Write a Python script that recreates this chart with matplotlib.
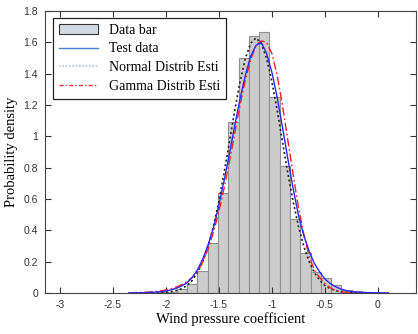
import matplotlib
matplotlib.use("Agg")
import matplotlib.pyplot as plt
from matplotlib.patches import Patch
from matplotlib.lines import Line2D

# Histogram (left edges of bins, bin width, densities)
bin_left = [-2.090, -1.993, -1.896, -1.799, -1.702, -1.605, -1.508, -1.411,
            -1.314, -1.217, -1.120, -1.023, -0.926, -0.829, -0.732, -0.635,
            -0.538, -0.441, -0.344, -0.247, -0.150]
bin_width = 0.097
bar_density = [0.003, 0.008, 0.025, 0.06, 0.14, 0.32, 0.64, 1.09,
               1.50, 1.64, 1.665, 1.25, 0.81, 0.47, 0.255, 0.135,
               0.096, 0.053, 0.02, 0.01, 0.005]

# Curves sampled on a common grid
curve_x = [-2.35, -2.30, -2.25, -2.20, -2.15, -2.10, -2.05, -2.00, -1.95, -1.90,
           -1.85, -1.80, -1.75, -1.70, -1.65, -1.60, -1.55, -1.50, -1.45, -1.40,
           -1.35, -1.30, -1.25, -1.20, -1.15, -1.10, -1.05, -1.00, -0.95, -0.90,
           -0.85, -0.80, -0.75, -0.70, -0.65, -0.60, -0.55, -0.50, -0.45, -0.40,
           -0.35, -0.30, -0.25, -0.20, -0.15, -0.10, -0.05, 0.00, 0.05, 0.10]

test_data = [0, 0, 0.001, 0.002, 0.003, 0.005, 0.008, 0.012, 0.02, 0.03,
             0.045, 0.065, 0.10, 0.15, 0.22, 0.31, 0.42, 0.56, 0.72, 0.89,
             1.07, 1.24, 1.39, 1.51, 1.58, 1.60, 1.53, 1.41, 1.25, 1.06,
             0.86, 0.67, 0.50, 0.37, 0.27, 0.19, 0.135, 0.09, 0.06, 0.04,
             0.025, 0.015, 0.009, 0.005, 0.003, 0.002, 0.001, 0.0005, 0, 0]

normal_est = [0, 0, 0.0001, 0.0002, 0.0004, 0.0009, 0.0019, 0.004, 0.0079, 0.015,
              0.027, 0.048, 0.081, 0.131, 0.203, 0.301, 0.429, 0.586, 0.769, 0.967,
              1.167, 1.350, 1.498, 1.594, 1.628, 1.594, 1.498, 1.350, 1.167, 0.967,
              0.769, 0.586, 0.429, 0.301, 0.203, 0.131, 0.081, 0.048, 0.027, 0.015,
              0.0079, 0.004, 0.0019, 0.0009, 0.0004, 0.0002, 0.0001, 0, 0, 0]

gamma_est = [0.001, 0.002, 0.003, 0.004, 0.006, 0.009, 0.013, 0.019, 0.027, 0.038,
             0.053, 0.073, 0.10, 0.14, 0.20, 0.285, 0.39, 0.52, 0.67, 0.84,
             1.02, 1.20, 1.36, 1.49, 1.58, 1.61, 1.60, 1.53, 1.39, 1.20,
             0.98, 0.76, 0.55, 0.38, 0.24, 0.145, 0.10, 0.06, 0.033, 0.016,
             0.007, 0.003, 0.001, 0, 0, 0, 0, 0, 0, 0]

x_ticks = [-3, -2.5, -2, -1.5, -1, -0.5, 0]
x_tick_labels = ["-3", "-2.5", "-2", "-1.5", "-1", "-0.5", "0"]
y_ticks = [0, 0.2, 0.4, 0.6, 0.8, 1.0, 1.2, 1.4, 1.6, 1.8]
y_tick_labels = ["0", "0.2", "0.4", "0.6", "0.8", "1", "1.2", "1.4", "1.6", "1.8"]
legend_labels = ["Data bar", "Test data", "Normal Distrib Esti", "Gamma Distrib Esti"]

fig = plt.figure(figsize=(4.18, 3.34), dpi=100)
ax = fig.add_axes([0.108, 0.123, 0.887, 0.844])

ax.bar(bin_left, bar_density, width=bin_width, align="edge",
       facecolor="#cccccc", edgecolor="#8f8f8f", linewidth=0.8, zorder=1)
ax.plot(curve_x, normal_est, color="#222222", linestyle=(0, (1.2, 1.6)), lw=1.2, zorder=3)
ax.plot(curve_x, gamma_est, color="#ff2020", linestyle=(0, (6, 2, 1.2, 2)), lw=1.0, zorder=4)
ax.plot(curve_x, test_data, color="#2a2aff", linestyle="-", lw=1.0, zorder=5)

ax.set_xlim(-3.14, 0.36)
ax.set_ylim(0, 1.8)
ax.set_xticks(x_ticks)
ax.set_xticklabels(x_tick_labels)
ax.set_yticks(y_ticks)
ax.set_yticklabels(y_tick_labels)
ax.tick_params(direction="in", top=True, right=True, length=4, width=0.8,
               colors="#333333", labelsize=7.5, pad=5)
for lab in ax.get_xticklabels() + ax.get_yticklabels():
    lab.set_family("Liberation Sans")
for s in ax.spines.values():
    s.set_color("#444444")
    s.set_linewidth(0.8)

ax.set_xlabel("Wind pressure coefficient", family="Liberation Serif", fontsize=10.5, labelpad=2)
ax.set_ylabel("Probability density", family="Liberation Serif", fontsize=10.5, labelpad=4)

handles = [
    Patch(facecolor="#d4dae4", edgecolor="#333333", linewidth=0.8),
    Line2D([], [], color="#4a7fd0", lw=1.0),
    Line2D([], [], color="#a8c8e8", lw=1.2, linestyle=(0, (1, 1))),
    Line2D([], [], color="#ff3030", lw=1.0, linestyle=(0, (3, 1.5, 1, 1.5))),
]
leg = ax.legend(handles, legend_labels, loc="upper left", bbox_to_anchor=(0.015, 0.985),
                prop={"family": "Liberation Serif", "size": 10}, frameon=True,
                fancybox=False, shadow=False, framealpha=1, edgecolor="#222222",
                borderpad=0.4, labelspacing=0.42, handlelength=2.8, handletextpad=0.8,
                borderaxespad=0.2)
leg.get_frame().set_linewidth(0.9)

fig.savefig("out.png", dpi=100)
